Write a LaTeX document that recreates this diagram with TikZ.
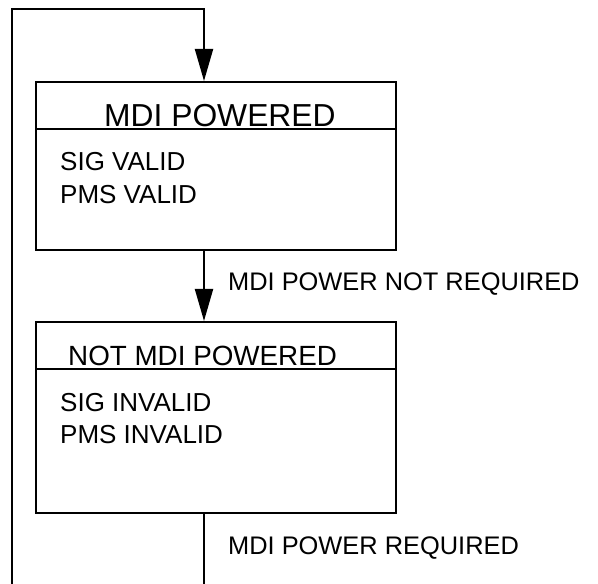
\documentclass[tikz,border=0pt]{standalone}
\usepackage{fontspec}
\setmainfont{Liberation Sans}
\usetikzlibrary{arrows.meta}

\tikzset{
  statebox/.style={draw, line width=2pt, minimum width=360pt, inner sep=0pt},
  txt/.style={anchor=base west, inner sep=0pt, font=\fontsize{26}{30}\selectfont},
  lbl/.style={anchor=base west, inner sep=0pt, font=\fontsize{25.4}{30}\selectfont},
  titleA/.style={anchor=base west, inner sep=0pt, font=\fontsize{31.8}{36}\selectfont},
  titleB/.style={anchor=base west, inner sep=0pt, font=\fontsize{27.8}{32}\selectfont},
  wire/.style={line width=2pt},
  flow/.style={line width=2pt, -{Triangle[length=32pt, width=18pt]}},
}

\begin{document}
\begin{tikzpicture}[x=1pt, y=1pt]
  \clip (0,0) rectangle (598,584);

  % state boxes
  \node[statebox, minimum height=168pt] (b1) at (216,418) {};
  \node[statebox, minimum height=191pt] (b2) at (216,166.5) {};

  % header dividers
  \draw[wire] ([yshift=-48pt]b1.north west) -- ([yshift=-48pt]b1.north east);
  \draw[wire] ([yshift=-48pt]b2.north west) -- ([yshift=-48pt]b2.north east);

  % box texts
  \node[titleA] (t1) at (104,457) {MDI POWERED};
  \node[txt] (s1) at (60,413.5) {SIG VALID};
  \node[txt] (p1) at (60,380) {PMS VALID};

  \node[titleB] (t2) at (68,218) {NOT MDI POWERED};
  \node[txt] (s2) at (60,172.3) {SIG INVALID};
  \node[txt] (p2) at (60,140) {PMS INVALID};

  % connection points
  \coordinate (in1) at ([xshift=-12pt]b1.north);
  \coordinate (out1) at ([xshift=-12pt]b1.south);
  \coordinate (in2) at ([xshift=-12pt]b2.north);
  \coordinate (out2) at ([xshift=-12pt]b2.south);
  \coordinate (rb) at (204,-20);
  \coordinate (lb) at (12,-20);
  \coordinate (tl) at (12,575);

  % transitions
  \draw[flow] (out1) -- (in2);
  \node[lbl] (l1) at (228,293) {MDI POWER NOT REQUIRED};

  \draw[flow] (out2) -- (rb) -- (lb) -- (tl) -| (in1);
  \node[lbl] (l2) at (228,29) {MDI POWER REQUIRED};
\end{tikzpicture}
\end{document}
